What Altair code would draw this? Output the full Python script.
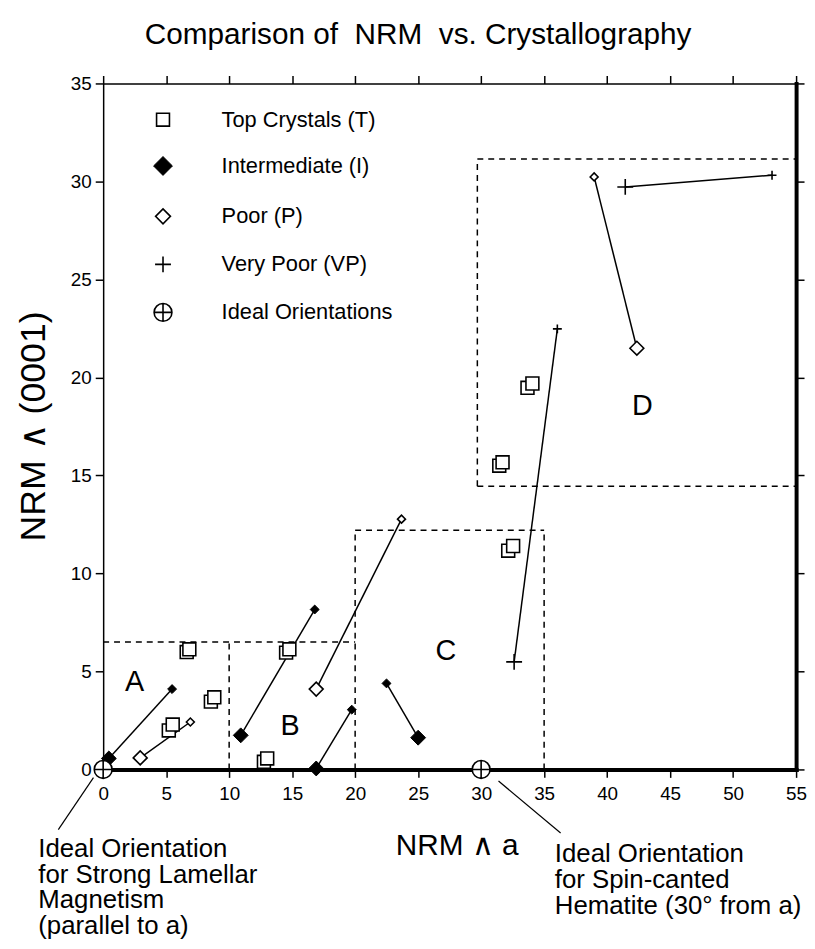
import altair as alt
import pandas as pd

FONT = "Liberation Sans"

# ---------------- data ----------------
# Top Crystals: each sample is a pair of overlapping squares (back, front)
top_x = [5.21, 5.52, 8.55, 8.82, 6.63, 6.84, 12.76, 13.02, 14.52, 14.78,
         32.15, 32.54, 33.68, 34.07, 31.44, 31.70]
top_y = [1.99, 2.29, 3.46, 3.68, 5.99, 6.13, 0.39, 0.56, 5.96, 6.13,
         11.16, 11.40, 19.47, 19.69, 15.50, 15.67]

# Intermediate (filled diamonds): large end / small end
int_big_x = [0.45, 10.92, 16.91, 25.00]
int_big_y = [0.56, 1.74, 0.05, 1.62]
int_small_x = [5.47, 16.79, 19.73, 22.49]
int_small_y = [4.10, 8.16, 3.05, 4.39]

# Poor (open diamonds)
poor_big_x = [2.94, 16.91, 42.36]
poor_big_y = [0.59, 4.10, 21.49]
poor_small_x = [6.92, 23.68, 38.97]
poor_small_y = [2.42, 12.77, 30.23]

# Very Poor (plus)
vp_big_x = [32.62, 41.44]
vp_big_y = [5.49, 29.72]
vp_small_x = [36.05, 53.09]
vp_small_y = [22.48, 30.32]

# Ideal orientations
ideal_x = [0, 30]
ideal_y = [0, 0]

# Dashed region boxes (segments)
box_x = [0, 10, 20, 20, 35, 29.7, 29.7, 29.7]
box_x2 = [20, 10, 20, 35, 35, 55, 29.7, 55]
box_y = [6.5, 0, 0, 12.2, 0, 31.15, 14.45, 14.45]
box_y2 = [6.5, 6.5, 12.2, 12.2, 12.2, 31.15, 31.15, 14.45]

# Region labels
region_text = ["A", "B", "C", "D"]
region_x = [2.5, 14.84, 27.2, 42.8]
region_y = [4.46, 2.23, 6.03, 18.54]

# Legend
legend_labels = ["Top Crystals (T)", "Intermediate (I)", "Poor (P)",
                 "Very Poor (VP)", "Ideal Orientations"]
legend_y = [33.15, 30.79, 28.22, 25.77, 23.32]
legend_sym_x = 4.75
legend_text_x = 9.4

# Titles and annotations (data units)
title_text = "Comparison of \u00a0NRM \u00a0vs. Crystallography"
title_xy = (25.0, 37.03)
xlabel_text = "NRM \u2227 a"
xlabel_xy = (28.1, -4.36)
ylabel_text = "NRM \u2227 (0001)"
ylabel_xy = (-5.45, 17.5)

ann_left_lines = ["Ideal Orientation", "for Strong Lamellar", "Magnetism",
                  "(parallel to a)"]
ann_left_x = -5.15
ann_left_y = [-4.45, -5.78, -7.08, -8.40]
ann_right_lines = ["Ideal Orientation", "for Spin-canted",
                   "Hematite (30\u00b0 from a)"]
ann_right_x = 35.85
ann_right_y = [-4.72, -6.06, -7.38]

# pointer lines from ideal markers to annotations
ptr_x = [-0.77, 31.38]
ptr_y = [-0.42, -0.59]
ptr_x2 = [-3.56, 36.31]
ptr_y2 = [-3.07, -3.24]

x_ticks = list(range(0, 56, 5))
y_ticks = list(range(0, 36, 5))

# ---------------- chart ----------------
xs = alt.Scale(domain=[0, 55], nice=False, zero=False)
ys = alt.Scale(domain=[0, 35], nice=False, zero=False)

x_axis = alt.Axis(values=x_ticks, orient="bottom", domainColor="black",
                  domainWidth=4, domainCap="square", tickColor="black",
                  tickWidth=1.5, tickSize=8, labelFont=FONT, labelFontSize=19,
                  labelColor="black", labelPadding=7, labelFlush=False,
                  labelOverlap=False, grid=False, title=None)
y_axis = alt.Axis(values=y_ticks, orient="left", domainColor="black",
                  domainWidth=1.5, tickColor="black", tickWidth=1.5,
                  tickSize=8, labelFont=FONT, labelFontSize=19,
                  labelColor="black", labelPadding=4, labelFlush=False,
                  labelOverlap=False, grid=False, title=None)
top_axis = alt.Axis(values=x_ticks, orient="top", domainColor="black",
                    domainWidth=1.5, tickColor="black", tickWidth=1.5,
                    tickSize=8, labels=False, grid=False, title=None)
right_axis = alt.Axis(values=y_ticks, orient="right", domainColor="black",
                      domainWidth=4, domainCap="square", tickColor="black",
                      tickWidth=1.5, tickSize=8, labels=False, grid=False,
                      title=None)

X = alt.X("x:Q", scale=xs, axis=x_axis)
Y = alt.Y("y:Q", scale=ys, axis=y_axis)

PLUS = "M-1,0L1,0M0,-1L0,1"
CIRCLE_PLUS = "M-1,0A1,1,0,0,1,1,0A1,1,0,0,1,-1,0ZM-1,0L1,0M0,-1L0,1"


def df(xv, yv):
    return pd.DataFrame({"x": xv, "y": yv})


def square_pts(d, size):
    return alt.Chart(d).mark_point(shape="square", size=size, filled=True,
                                   fill="white", stroke="black",
                                   strokeWidth=1.6, opacity=1).encode(x=X, y=Y)


def fdiamond_pts(d, size):
    return alt.Chart(d).mark_point(shape="diamond", size=size, filled=True,
                                   fill="black", stroke="black",
                                   strokeWidth=1, opacity=1).encode(x=X, y=Y)


def odiamond_pts(d, size):
    return alt.Chart(d).mark_point(shape="diamond", size=size, filled=True,
                                   fill="white", stroke="black",
                                   strokeWidth=1.6, opacity=1).encode(x=X, y=Y)


def plus_pts(d, size):
    return alt.Chart(d).mark_point(shape=PLUS, size=size, filled=False,
                                   stroke="black", strokeWidth=1.6,
                                   opacity=1).encode(x=X, y=Y)


def ideal_pts(d, size):
    return alt.Chart(d).mark_point(shape=CIRCLE_PLUS, size=size, filled=True,
                                   fill="white", stroke="black",
                                   strokeWidth=1.6, opacity=1).encode(x=X, y=Y)


def text_layer(d, size, align="left", baseline="middle", angle=0):
    kw = dict(font=FONT, fontSize=size, align=align, baseline=baseline,
              color="black")
    if angle:
        kw["angle"] = angle
    return alt.Chart(d).mark_text(**kw).encode(x=X, y=Y, text="t:N")


seg_df = pd.DataFrame({
    "x": int_big_x + poor_big_x + vp_big_x,
    "y": int_big_y + poor_big_y + vp_big_y,
    "x2": int_small_x + poor_small_x + vp_small_x,
    "y2": int_small_y + poor_small_y + vp_small_y,
})
segments = alt.Chart(seg_df).mark_rule(color="black", strokeWidth=1.5).encode(
    x=X, y=Y, x2="x2:Q", y2="y2:Q")

box_df = pd.DataFrame({"x": box_x, "y": box_y, "x2": box_x2, "y2": box_y2})
boxes = alt.Chart(box_df).mark_rule(color="black", strokeWidth=1.5,
                                    strokeDash=[6, 5]).encode(
    x=X, y=Y, x2="x2:Q", y2="y2:Q")

ptr_df = pd.DataFrame({"x": ptr_x, "y": ptr_y, "x2": ptr_x2, "y2": ptr_y2})
pointers = alt.Chart(ptr_df).mark_rule(color="black", strokeWidth=1.2).encode(
    x=X, y=Y, x2="x2:Q", y2="y2:Q")

region_df = pd.DataFrame({"x": region_x, "y": region_y, "t": region_text})
leg_text_df = pd.DataFrame({"x": [legend_text_x] * len(legend_labels),
                            "y": legend_y, "t": legend_labels})

layers = [
    boxes,
    segments,
    pointers,
    square_pts(df(top_x, top_y), 169),
    fdiamond_pts(df(int_big_x, int_big_y), 225),
    fdiamond_pts(df(int_small_x, int_small_y), 81),
    odiamond_pts(df(poor_big_x, poor_big_y), 196),
    odiamond_pts(df(poor_small_x, poor_small_y), 64),
    plus_pts(df(vp_big_x, vp_big_y), 256),
    plus_pts(df(vp_small_x, vp_small_y), 81),
    ideal_pts(df(ideal_x, ideal_y), 324),
    # legend symbols
    square_pts(df([legend_sym_x], [legend_y[0]]), 169),
    fdiamond_pts(df([legend_sym_x], [legend_y[1]]), 361),
    odiamond_pts(df([legend_sym_x], [legend_y[2]]), 225),
    plus_pts(df([legend_sym_x], [legend_y[3]]), 256),
    ideal_pts(df([legend_sym_x], [legend_y[4]]), 324),
    text_layer(leg_text_df, 22),
    text_layer(region_df, 29, align="center"),
    text_layer(pd.DataFrame({"x": [title_xy[0]], "y": [title_xy[1]],
                             "t": [title_text]}), 30, align="center",
               baseline="alphabetic"),
    text_layer(pd.DataFrame({"x": [xlabel_xy[0]], "y": [xlabel_xy[1]],
                             "t": [xlabel_text]}), 30, align="center",
               baseline="alphabetic"),
    text_layer(pd.DataFrame({"x": [ylabel_xy[0]], "y": [ylabel_xy[1]],
                             "t": [ylabel_text]}), 36, align="center",
               baseline="middle", angle=270),
    text_layer(pd.DataFrame({"x": [ann_left_x] * len(ann_left_lines),
                             "y": ann_left_y, "t": ann_left_lines}), 26,
               baseline="alphabetic"),
    text_layer(pd.DataFrame({"x": [ann_right_x] * len(ann_right_lines),
                             "y": ann_right_y, "t": ann_right_lines}), 26,
               baseline="alphabetic"),
]

main = alt.layer(*layers)

axis_layer = alt.Chart(df([0], [0])).mark_point(opacity=0).encode(
    x=alt.X("x:Q", scale=xs, axis=top_axis),
    y=alt.Y("y:Q", scale=ys, axis=right_axis),
)

chart = alt.layer(main, axis_layer).resolve_scale(
    x="independent", y="independent"
).properties(
    width=699, height=692,
    autosize=alt.AutoSizeParams(type="none"),
    padding={"left": 96, "top": 72, "right": 11, "bottom": 175},
    background="white",
).configure_view(strokeWidth=0)

chart.save("out.html", embed_options={"renderer": "svg", "actions": False})
